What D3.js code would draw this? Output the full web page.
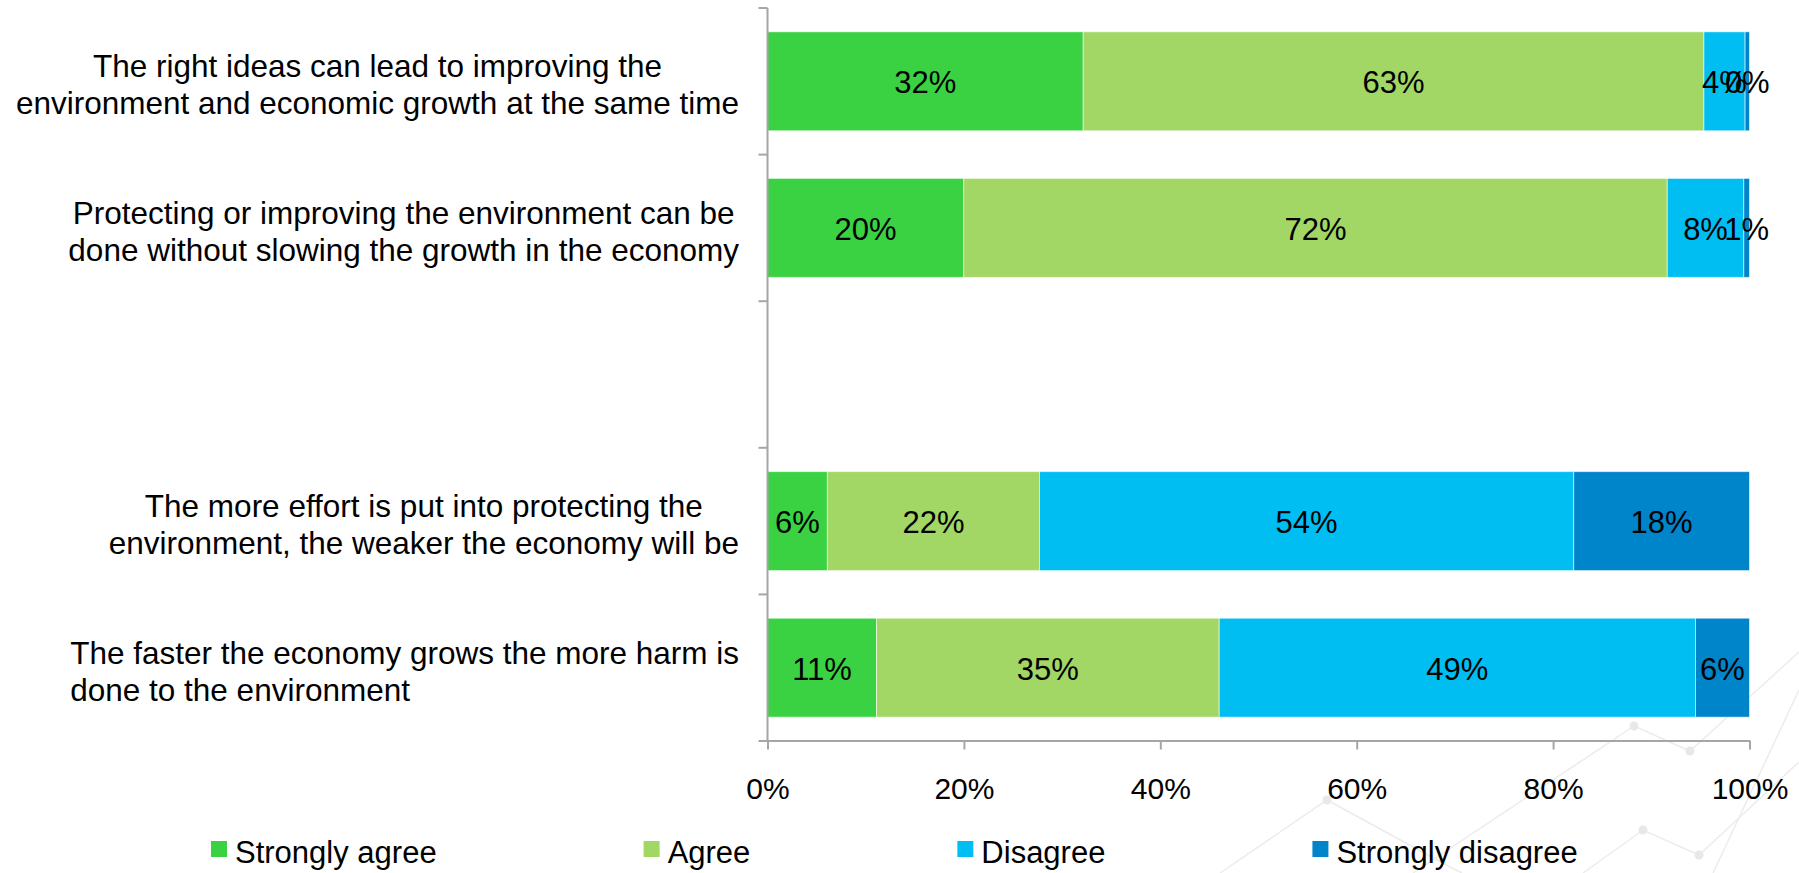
<!DOCTYPE html>
<html>
<head>
<meta charset="utf-8">
<script src="https://cdn.jsdelivr.net/npm/d3@7"></script>
<style>
  html, body { margin: 0; padding: 0; background: #ffffff; }
  svg { display: block; font-family: "Liberation Sans", Arial, Helvetica, sans-serif; }
</style>
</head>
<body>
<svg id="chart" width="1799" height="873"></svg>
<script>
// ---------------- data ----------------
const categories = [
  "The right ideas can lead to improving the\nenvironment and economic growth at the same time",
  "Protecting or improving the environment can be\ndone without slowing the growth in the economy",
  "",
  "The more effort is put into protecting the\nenvironment, the weaker the economy will be",
  "The faster the economy grows the more harm is\ndone to the environment"
];
const seriesNames = ["Strongly agree", "Agree", "Disagree", "Strongly disagree"];
const stronglyAgree    = [32.2, 20.0, null, 6.1, 11.1];
const agree            = [63.3, 71.7, null, 21.6, 34.9];
const disagree         = [4.2, 7.8, null, 54.4, 48.5];
const stronglyDisagree = [0.45, 0.58, null, 17.9, 5.5];
const xTickValues = [0, 0.2, 0.4, 0.6, 0.8, 1];

// ---------------- styling / layout ----------------
const colors = ["#3AD243", "#A2D665", "#00BEF2", "#0084CA"];
const labelAlign = ["middle", "middle", "middle", "middle", "start"];
const FONT = '"Liberation Sans", Arial, Helvetica, sans-serif';
const plot = { left: 767.5, right: 1749.5, top: 8, bottom: 741 };
const axisColor = "#A6A6A6";

const svg = d3.select("#chart");

// decorative background (template pattern)
const decorPaths = [
  [[1413, 873], [1634, 726], [1690, 751], [1799, 652]],
  [[1583, 873], [1643, 830], [1699, 855], [1799, 762]],
  [[1220, 873], [1327, 800], [1450, 867], [1462, 873]],
  [[1713, 873], [1799, 690]]
];
const decorDots = [[1634, 726], [1690, 751], [1643, 830], [1699, 855], [1327, 800]];
const deco = svg.append("g");
deco.selectAll("path").data(decorPaths).join("path")
  .attr("d", d3.line())
  .attr("fill", "none").attr("stroke", "#ececec").attr("stroke-width", 1.5);
deco.selectAll("circle").data(decorDots).join("circle")
  .attr("cx", d => d[0]).attr("cy", d => d[1]).attr("r", 4.5).attr("fill", "#e8e8e8");

// ---------------- scales ----------------
const x = d3.scaleLinear().domain([0, 1]).range([plot.left, plot.right]);
const y = d3.scaleBand().domain(d3.range(categories.length)).range([plot.top, plot.bottom]).padding(0);
const barH = y.bandwidth() * 0.675;
const barOff = (y.bandwidth() - barH) / 2;

// table for stacking
const seriesValues = [stronglyAgree, agree, disagree, stronglyDisagree];
const rows = categories.map((c, i) => {
  const r = { idx: i };
  seriesNames.forEach((s, j) => r[s] = seriesValues[j][i]);
  return r;
}).filter(r => r[seriesNames[0]] != null);

const stack = d3.stack().keys(seriesNames).offset(d3.stackOffsetExpand);
const stacked = stack(rows);

// bars
const gBars = svg.append("g");
stacked.forEach((layer, j) => {
  gBars.append("g")
    .attr("fill", colors[j])
    .selectAll("rect").data(layer).join("rect")
    .attr("x", d => x(d[0]))
    .attr("y", d => y(d.data.idx) + barOff)
    .attr("width", d => x(d[1]) - x(d[0]))
    .attr("height", barH)
    .attr("stroke", "rgba(255,255,255,0.55)")
    .attr("stroke-width", 1);
});

// data labels
const gLabels = svg.append("g");
stacked.forEach((layer, j) => {
  gLabels.selectAll(null).data(layer).join("text")
    .attr("x", d => (x(d[0]) + x(d[1])) / 2)
    .attr("y", d => y(d.data.idx) + y.bandwidth() / 2 + 12)
    .attr("text-anchor", "middle")
    .attr("font-size", 31)
    .attr("fill", "#000")
    .text(d => Math.round(d.data[seriesNames[j]]) + "%");
});

// ---------------- y axis (category) ----------------
const gY = svg.append("g");
gY.append("line")
  .attr("x1", plot.left).attr("x2", plot.left)
  .attr("y1", plot.top).attr("y2", plot.bottom)
  .attr("stroke", axisColor).attr("stroke-width", 2);
const bounds = y.domain().map(d => y(d)).concat([y.range()[1]]);
gY.selectAll("line.tick").data(bounds).join("line").attr("class", "tick")
  .attr("x1", plot.left - 9).attr("x2", plot.left)
  .attr("y1", d => d).attr("y2", d => d)
  .attr("stroke", axisColor).attr("stroke-width", 2);

// category labels
const labelRight = 739;
const lineGap = 37;
categories.forEach((c, i) => {
  if (!c) return;
  const lines = c.split("\n");
  const cy = y(i) + y.bandwidth() / 2 + 2;
  const g = gY.append("g");
  const texts = lines.map((ln, k) => g.append("text")
    .attr("font-size", 31.5)
    .attr("fill", "#000")
    .attr("y", cy - 6 + k * lineGap - (lines.length - 2) * lineGap / 2)
    .text(ln));
  const widths = texts.map(t => t.node().getComputedTextLength());
  const maxW = d3.max(widths);
  texts.forEach((t, k) => {
    if (labelAlign[i] === "start") {
      t.attr("x", labelRight - maxW);
    } else {
      t.attr("x", labelRight - maxW / 2 - widths[k] / 2);
    }
  });
});

// ---------------- x axis ----------------
const gX = svg.append("g")
  .attr("transform", `translate(0,${plot.bottom - 0.5})`)
  .call(d3.axisBottom(x).tickValues(xTickValues).tickFormat(d3.format(".0%")).tickSize(9).tickSizeOuter(0));
gX.select(".domain").attr("stroke", axisColor).attr("stroke-width", 2);
gX.selectAll(".tick line").attr("stroke", axisColor).attr("stroke-width", 2);
gX.selectAll(".tick text")
  .attr("y", 58.5).attr("dy", null)
  .attr("font-size", 30).attr("font-family", FONT).attr("fill", "#000");

// ---------------- legend ----------------
const legend = svg.append("g");
let lx = 211;
seriesNames.forEach((s, j) => {
  legend.append("rect")
    .attr("x", lx).attr("y", 841).attr("width", 16).attr("height", 16)
    .attr("fill", colors[j]);
  const t = legend.append("text")
    .attr("x", lx + 24).attr("y", 862.5)
    .attr("font-size", 31).attr("fill", "#000")
    .text(s);
  lx += 24 + t.node().getComputedTextLength() + 207;
});
</script>
</body>
</html>
